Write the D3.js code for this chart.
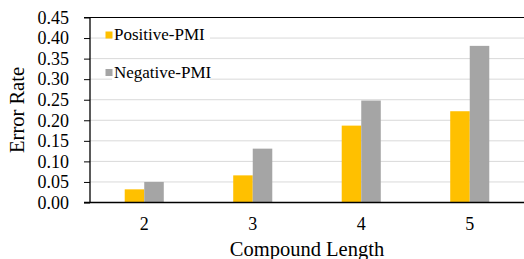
<!DOCTYPE html>
<html>
<head>
<meta charset="utf-8">
<script src="https://cdn.jsdelivr.net/npm/d3@7"></script>
<style>
  body { margin: 0; background: #fff; }
</style>
</head>
<body>
<div id="chart"></div>
<script>
// data
const lengths = ["2", "3", "4", "5"];
const seriesNames = ["Positive-PMI", "Negative-PMI"];
const positivePMI = [0.032, 0.066, 0.187, 0.222];
const negativePMI = [0.050, 0.131, 0.248, 0.381];
const yTicks = [0, 0.05, 0.10, 0.15, 0.20, 0.25, 0.30, 0.35, 0.40, 0.45];
const colors = ["#FFC000", "#A5A5A5"];

const FONT = "'Liberation Serif', 'Times New Roman', 'DejaVu Serif', serif";

const W = 524, H = 259;
const margin = {top: 17.5, right: 0, bottom: 56.5, left: 90};
const width = W - margin.left - margin.right,
      height = H - margin.top - margin.bottom;

const svg = d3.select("#chart")
    .append("svg")
    .attr("width", W)
    .attr("height", H)
    .style("font-family", FONT);

const g = svg.append("g")
    .attr("transform", `translate(${margin.left},${margin.top})`);

const x = d3.scaleBand()
    .domain(lengths)
    .range([0, width])
    .paddingInner(0.64)
    .paddingOuter(0.32);

const xs = d3.scaleBand()
    .domain(seriesNames)
    .range([0, x.bandwidth()]);

const y = d3.scaleLinear()
    .domain([0, 0.45])
    .range([height, 0]);

// gridlines
g.append("g")
    .selectAll("line")
    .data(yTicks.slice(1, -1))
    .join("line")
    .attr("x1", 0)
    .attr("x2", width)
    .attr("y1", d => y(d))
    .attr("y2", d => y(d))
    .attr("stroke", "#d9d9d9")
    .attr("stroke-width", 1);

// bars
const rows = lengths.map((l, i) => ({len: l, vals: [positivePMI[i], negativePMI[i]]}));
g.append("g")
    .selectAll("g")
    .data(rows)
    .join("g")
    .attr("transform", d => `translate(${x(d.len)},0)`)
    .selectAll("rect")
    .data(d => d.vals.map((v, j) => ({name: seriesNames[j], v: v, c: colors[j]})))
    .join("rect")
    .attr("x", d => xs(d.name))
    .attr("width", xs.bandwidth())
    .attr("y", d => y(d.v))
    .attr("height", d => y(0) - y(d.v))
    .attr("fill", d => d.c);

// y axis
const yAxis = g.append("g")
    .call(d3.axisLeft(y).tickValues(yTicks).tickFormat(d3.format(".2f"))
        .tickSize(6).tickPadding(15));
yAxis.attr("font-family", null).attr("font-size", null);
yAxis.select(".domain").remove();
yAxis.selectAll("line").attr("stroke", "#000");
yAxis.selectAll("text")
    .style("font-family", FONT)
    .style("font-size", "18px")
    .attr("fill", "#000");
g.append("line")
    .attr("x1", 0).attr("x2", 0)
    .attr("y1", 0).attr("y2", height)
    .attr("stroke", "#000").attr("stroke-width", 1.3);

// top frame line
g.append("line")
    .attr("x1", -6).attr("x2", width)
    .attr("y1", 0).attr("y2", 0)
    .attr("stroke", "#000").attr("stroke-width", 1);

// x axis
const xAxis = g.append("g")
    .attr("transform", `translate(0,${height})`)
    .call(d3.axisBottom(x).tickSize(0).tickPadding(15));
xAxis.attr("font-family", null).attr("font-size", null);
xAxis.select(".domain").remove();
xAxis.selectAll("text")
    .style("font-family", FONT)
    .style("font-size", "18px")
    .attr("fill", "#000");
g.append("line")
    .attr("x1", -6).attr("x2", width)
    .attr("y1", height).attr("y2", height)
    .attr("stroke", "#000").attr("stroke-width", 1.5);

// axis titles
svg.append("text")
    .attr("x", margin.left + width / 2)
    .attr("y", 255.5)
    .attr("text-anchor", "middle")
    .style("font-family", FONT)
    .style("font-size", "20.5px")
    .text("Compound Length");

svg.append("text")
    .attr("transform", `translate(23.5,${margin.top + height / 2}) rotate(-90)`)
    .attr("text-anchor", "middle")
    .style("font-family", FONT)
    .style("font-size", "20.5px")
    .text("Error Rate");

// legend
const legend = svg.append("g")
    .selectAll("g")
    .data(seriesNames)
    .join("g")
    .attr("transform", (d, i) => `translate(105.5,${31.5 + i * 37.5})`);
legend.append("rect")
    .attr("x", 6.5).attr("y", -3)
    .attr("width", 98).attr("height", 14)
    .attr("fill", "#fff");
legend.append("rect")
    .attr("width", 7).attr("height", 7)
    .attr("fill", (d, i) => colors[i]);
legend.append("text")
    .attr("x", 8.5)
    .attr("y", 8.5)
    .style("font-family", FONT)
    .style("font-size", "17px")
    .text(d => d);
</script>
</body>
</html>
